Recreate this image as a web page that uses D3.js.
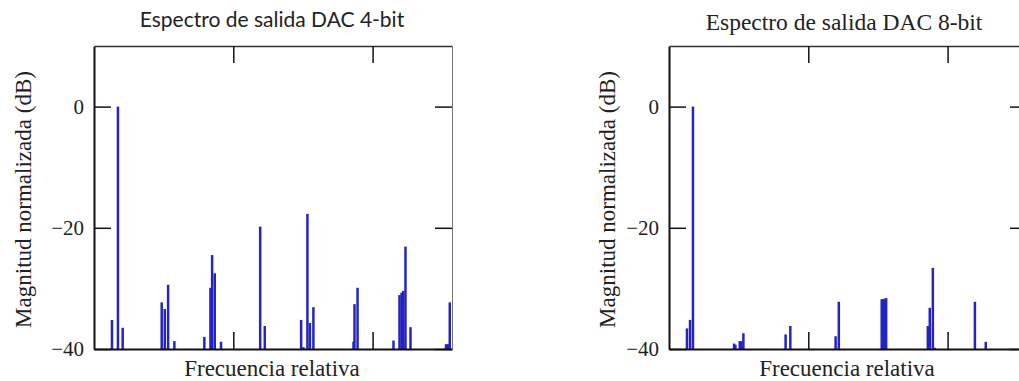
<!DOCTYPE html>
<html>
<head>
<meta charset="utf-8">
<script src="https://cdn.jsdelivr.net/npm/d3@7"></script>
<style>
  body { margin: 0; background: #fff; }
  svg { display: block; }
</style>
</head>
<body>
<script>
// 4-bit DAC spectrum (relative frequency, dB)
const freq4 = [0.129, 0.172, 0.206, 0.486, 0.508, 0.532, 0.577, 0.792, 0.836, 0.848, 0.867, 0.912,
  1.193, 1.226, 1.487, 1.504, 1.532, 1.550, 1.575, 1.863, 1.870, 1.892,
  2.150, 2.193, 2.208, 2.220, 2.236, 2.272, 2.527, 2.540, 2.554];
const db4 = [-35.2, 0, -36.5, -32.3, -33.4, -29.4, -38.7, -38.0, -29.9, -24.5, -27.5, -38.8,
  -19.8, -36.2, -35.2, -39.7, -17.7, -35.7, -33.1, -38.8, -32.6, -29.9,
  -38.6, -31.1, -30.7, -30.4, -23.1, -36.4, -39.2, -39.2, -32.3];

// 8-bit DAC spectrum
const freq8 = [0.129, 0.151, 0.172, 0.467, 0.477, 0.508, 0.519, 0.534, 0.837, 0.871,
  1.196, 1.219, 1.527, 1.537, 1.548, 1.559, 1.858, 1.872, 1.894, 1.907, 2.196, 2.274];
const db8 = [-36.6, -35.2, 0, -39.1, -39.3, -38.7, -38.7, -37.4, -37.6, -36.2,
  -37.9, -32.2, -31.8, -31.8, -31.7, -31.6, -36.2, -33.2, -26.6, -39.8, -32.2, -38.8];

const yTicks = [0, -20, -40];
const xTicks = [1, 2];
const titles = ["Espectro de salida DAC 4-bit", "Espectro de salida DAC 8-bit"];
const xLabel = "Frecuencia relativa";
const yLabel = "Magnitud normalizada (dB)";

const width = 1019, height = 381;
const svg = d3.create("svg").attr("width", width).attr("height", height);

function panel(opts) {
  const { left, freq, db, title, titleFont, titleX, titleY, titleSize, yTitleX } = opts;
  const top = 46, bottom = 349, w = 358;

  const x = d3.scaleLinear().domain([0, 2.57]).range([left, left + w]);
  const y = d3.scaleLinear().domain([-40, 10]).range([bottom, top]);

  const g = svg.append("g");

  // bars
  g.append("g")
    .attr("stroke", "#2424c4")
    .attr("stroke-width", 2.5)
    .selectAll("line")
    .data(d3.zip(freq, db))
    .join("line")
    .attr("x1", d => x(d[0]))
    .attr("x2", d => x(d[0]))
    .attr("y1", y(-40))
    .attr("y2", d => y(d[1]));

  const noLabel = () => "";

  // left axis with labels
  const ay = g.append("g")
    .attr("transform", `translate(${left},0)`)
    .call(d3.axisLeft(y).tickValues(yTicks).tickSizeInner(-17).tickSizeOuter(0).tickPadding(10)
      .tickFormat(d => d === 0 ? "0" : "\u2212" + Math.abs(d)));
  ay.selectAll("text")
    .attr("font-family", "'Liberation Serif', serif")
    .attr("font-size", 21)
    .attr("fill", "#222");
  ay.select(".domain").attr("stroke", "#111").attr("stroke-width", 2);

  // right axis
  const ar = g.append("g")
    .attr("transform", `translate(${left + w},0)`)
    .call(d3.axisRight(y).tickValues(yTicks).tickSizeInner(-17).tickSizeOuter(0).tickFormat(noLabel));
  ar.select(".domain").attr("stroke", "#777").attr("stroke-width", 1);

  // top axis
  const at = g.append("g")
    .attr("transform", `translate(0,${top})`)
    .call(d3.axisTop(x).tickValues(xTicks).tickSizeInner(-17).tickSizeOuter(0).tickFormat(noLabel));
  at.select(".domain").attr("stroke", "#333").attr("stroke-width", 1.5);

  // bottom axis
  const ab = g.append("g")
    .attr("transform", `translate(0,${bottom})`)
    .call(d3.axisBottom(x).tickValues(xTicks).tickSizeInner(-17).tickSizeOuter(0).tickFormat(noLabel));
  ab.select(".domain").attr("stroke", "#111").attr("stroke-width", 2);

  g.selectAll(".tick line").attr("stroke", "#111").attr("stroke-width", 1.5);

  // title
  g.append("text")
    .attr("x", titleX)
    .attr("y", titleY)
    .attr("text-anchor", "middle")
    .attr("font-family", titleFont)
    .attr("font-size", titleSize)
    .attr("fill", "#222")
    .text(title);

  // x label
  g.append("text")
    .attr("x", left + w / 2 - 1)
    .attr("y", 376)
    .attr("text-anchor", "middle")
    .attr("font-family", "'Liberation Serif', serif")
    .attr("font-size", 23)
    .attr("fill", "#222")
    .text(xLabel);

  // y label
  g.append("text")
    .attr("transform", `translate(${yTitleX},${(top + bottom) / 2 + 2}) rotate(-90)`)
    .attr("text-anchor", "middle")
    .attr("font-family", "'Liberation Serif', serif")
    .attr("font-size", 23)
    .attr("fill", "#222")
    .text(yLabel);
}

panel({ left: 94, freq: freq4, db: db4, title: titles[0], titleFont: "Lato, 'Open Sans', sans-serif",
  titleX: 272, titleY: 27, titleSize: 21, yTitleX: 31 });
panel({ left: 669, freq: freq8, db: db8, title: titles[1], titleFont: "'Liberation Serif', serif",
  titleX: 844, titleY: 30, titleSize: 23.5, yTitleX: 615 });

document.body.appendChild(svg.node());
</script>
</body>
</html>
